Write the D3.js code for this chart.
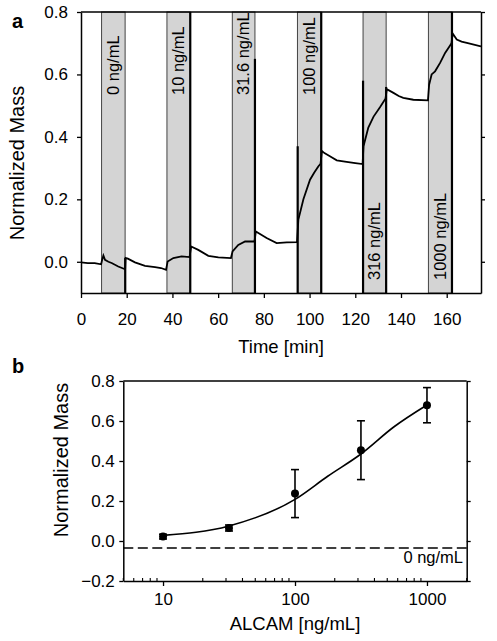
<!DOCTYPE html>
<html><head><meta charset="utf-8">
<script src="https://cdnjs.cloudflare.com/ajax/libs/d3/7.8.5/d3.min.js"></script>
<style>
body{margin:0;background:#fff;}
svg{display:block;font-family:"Liberation Sans",Arial,Helvetica,sans-serif;}
</style></head>
<body>
<svg id="chart" width="497" height="641"></svg>
<script>
// ---------- Panel a data ----------
const timeTicks = [0,20,40,60,80,100,120,140,160];
const massTicksA = [0.0,0.2,0.4,0.6,0.8];
const bandLabels = ["0 ng/mL","10 ng/mL","31.6 ng/mL","100 ng/mL","316 ng/mL","1000 ng/mL"];
const bandStart = [9.0,37.6,66.2,94.7,123.4,152.0];
const bandEnd   = [19.3,47.8,76.1,105.1,133.5,162.3];
const traceTime = [0,3,6,8.8,9.2,9.8,10.5,12,13.4,16.3,19,19.3,
  19.5,20.5,23.6,28,32.4,35,37.2,
  37.9,40.4,44,47.5,
  48.2,51.3,55.7,60.1,65.6,
  66.3,68.8,71.8,75.9,
  76.5,78.5,81.2,85.6,90,94.5,
  95.1,97.3,100.2,102,103.8,104.8,
  105.4,106.5,108.9,111.9,116.2,120,123.2,
  123.6,125.7,128,130.8,133.2,
  133.8,136.7,139,141,145.4,151.8,
  152.3,153.4,154.9,157.1,159.3,161.4,162.1,
  162.6,164.4,166.5,168.8,175];
const traceMass = [-0.002,-0.004,-0.004,-0.008,0.005,0.02,0.006,0.0,-0.004,-0.015,-0.023,-0.024,
  0.012,0.01,-0.002,-0.013,-0.017,-0.02,-0.026,
  0.001,0.012,0.017,0.015,
  0.049,0.038,0.019,0.014,0.012,
  0.033,0.054,0.065,0.065,
  0.097,0.088,0.076,0.06,0.062,0.063,
  0.135,0.2,0.263,0.285,0.305,0.314,
  0.355,0.348,0.338,0.325,0.32,0.316,0.313,
  0.37,0.43,0.465,0.495,0.522,
  0.553,0.541,0.531,0.525,0.519,0.517,
  0.567,0.6,0.61,0.637,0.669,0.692,0.70,
  0.731,0.712,0.705,0.701,0.69];
const spikeTime = [19.35,47.8,76.1,94.8,105.1,123.4,133.5,162.3];
const spikeTop  = [0.012,0.85,0.65,0.37,0.85,0.58,0.56,0.85];

// ---------- Panel b data ----------
const conc = [10,31.6,100,316,1000];
const massB = [0.022,0.065,0.237,0.454,0.679];
const errB = [0.012,0.015,0.12,0.147,0.088];
const fitConc = [10,31.6,100,178,316,560,1000];
const fitMass = [0.028,0.075,0.208,0.325,0.435,0.57,0.68];
const baselineMass = -0.035;
const concTicks = [10,100,1000];
const massTicksB = [-0.2,0.0,0.2,0.4,0.6,0.8];

const svg = d3.select("#chart");
const FONT = "Liberation Sans, Arial, Helvetica, sans-serif";

// ================= Panel a =================
const xa = d3.scaleLinear().domain([0,175]).range([81,481]);
const ya = d3.scaleLinear().domain([-0.1,0.8]).range([293,12]);
const ga = svg.append("g");

ga.append("clipPath").attr("id","clipA").append("rect")
  .attr("x",xa(0)).attr("y",ya(0.8)).attr("width",xa(175)-xa(0)).attr("height",ya(-0.1)-ya(0.8));

// bands
const bands = bandStart.map((s,i)=>({s,e:bandEnd[i],label:bandLabels[i],i}));
ga.selectAll("rect.band").data(bands).join("rect").attr("class","band")
  .attr("x",d=>xa(d.s)).attr("width",d=>xa(d.e)-xa(d.s))
  .attr("y",ya(0.8)).attr("height",ya(-0.1)-ya(0.8))
  .attr("fill","#d4d4d4").attr("stroke","#444").attr("stroke-width",1);

ga.selectAll("text.blabel").data(bands).join("text").attr("class","blabel")
  .attr("transform",d=>`translate(${(xa(d.s)+xa(d.e))/2},${d.i>=4?280:95}) rotate(-90)`)
  .attr("dy","0.35em").attr("text-anchor","start")
  .attr("font-size",16.5).attr("fill","#000").text(d=>d.label);

// trace
const trace = traceTime.map((t,i)=>[t,traceMass[i]]);
const gclip = ga.append("g").attr("clip-path","url(#clipA)");
gclip.append("path").datum(trace)
  .attr("d",d3.line().x(d=>xa(d[0])).y(d=>ya(d[1])))
  .attr("fill","none").attr("stroke","#000").attr("stroke-width",1.8);
gclip.selectAll("line.spike").data(spikeTime.map((t,i)=>({t,top:spikeTop[i]}))).join("line")
  .attr("x1",d=>xa(d.t)).attr("x2",d=>xa(d.t))
  .attr("y1",d=>ya(d.top)).attr("y2",ya(-0.15))
  .attr("stroke","#000").attr("stroke-width",2.2);

// axes a
const axL = ga.append("g").attr("transform",`translate(${xa(0)},0)`)
  .call(d3.axisLeft(ya).tickValues(massTicksA).tickFormat(d3.format(".1f")).tickSize(4).tickPadding(9).tickSizeOuter(0));
const axR = ga.append("g").attr("transform",`translate(${xa(175)},0)`)
  .call(d3.axisRight(ya).tickValues(massTicksA).tickFormat("").tickSize(4).tickSizeOuter(0));
const axB = ga.append("g").attr("transform",`translate(0,${ya(-0.1)})`)
  .call(d3.axisBottom(xa).tickValues(timeTicks).tickSize(5).tickPadding(14.5).tickSizeOuter(0));
ga.append("line").attr("x1",xa(0)).attr("x2",xa(175)).attr("y1",ya(0.8)).attr("y2",ya(0.8))
  .attr("stroke","#000").attr("stroke-width",1.5);
[axL,axR,axB].forEach(a=>{
  a.selectAll("path.domain").attr("stroke","#000").attr("stroke-width",1.5);
  a.selectAll(".tick line").attr("stroke","#000").attr("stroke-width",1.3);
  a.selectAll("text").attr("font-size",17).attr("font-family",FONT).attr("fill","#000");
});

ga.append("text").attr("x",(xa(0)+xa(175))/2).attr("y",353).attr("text-anchor","middle")
  .attr("font-size",18.5).text("Time [min]");
ga.append("text").attr("transform","translate(24,163) rotate(-90)").attr("text-anchor","middle")
  .attr("font-size",20).text("Normalized Mass");
svg.append("text").attr("x",12).attr("y",28).attr("font-size",20).attr("font-weight","bold").text("a");

// ================= Panel b =================
const xb = d3.scaleLog().domain([5,2000]).range([123.3,466.7]);
const yb = d3.scaleLinear().domain([-0.2,0.8]).range([581,381]);
const gb = svg.append("g");

// dashed baseline
gb.append("line").attr("x1",xb(5)).attr("x2",xb(2000))
  .attr("y1",yb(baselineMass)).attr("y2",yb(baselineMass))
  .attr("stroke","#000").attr("stroke-width",1.6).attr("stroke-dasharray","10,4.5");
gb.append("text").attr("x",463).attr("y",563).attr("text-anchor","end")
  .attr("font-size",16.5).text("0 ng/mL");

// fit curve
gb.append("path").datum(fitConc.map((c,i)=>[c,fitMass[i]]))
  .attr("d",d3.line().x(d=>xb(d[0])).y(d=>yb(d[1])).curve(d3.curveMonotoneX))
  .attr("fill","none").attr("stroke","#000").attr("stroke-width",1.6);

// error bars + points
const pts = conc.map((c,i)=>({c,m:massB[i],e:errB[i]}));
const eb = gb.selectAll("g.pt").data(pts).join("g").attr("class","pt");
eb.append("line").attr("x1",d=>xb(d.c)).attr("x2",d=>xb(d.c))
  .attr("y1",d=>yb(d.m-d.e)).attr("y2",d=>yb(d.m+d.e)).attr("stroke","#000").attr("stroke-width",1.6);
eb.append("line").attr("x1",d=>xb(d.c)-4).attr("x2",d=>xb(d.c)+4)
  .attr("y1",d=>yb(d.m+d.e)).attr("y2",d=>yb(d.m+d.e)).attr("stroke","#000").attr("stroke-width",1.6);
eb.append("line").attr("x1",d=>xb(d.c)-4).attr("x2",d=>xb(d.c)+4)
  .attr("y1",d=>yb(d.m-d.e)).attr("y2",d=>yb(d.m-d.e)).attr("stroke","#000").attr("stroke-width",1.6);
eb.append("circle").attr("cx",d=>xb(d.c)).attr("cy",d=>yb(d.m)).attr("r",4).attr("fill","#000");

// axes b
const bL = gb.append("g").attr("transform",`translate(${xb(5)},0)`)
  .call(d3.axisLeft(yb).tickValues(massTicksB).tickFormat(d3.format(".1f")).tickSize(4).tickPadding(4.5).tickSizeOuter(0));
const bR = gb.append("g").attr("transform",`translate(${xb(2000)},0)`)
  .call(d3.axisRight(yb).tickValues(massTicksB).tickFormat("").tickSize(4).tickSizeOuter(0));
const bB = gb.append("g").attr("transform",`translate(0,${yb(-0.2)})`)
  .call(d3.axisBottom(xb).tickValues(concTicks).tickFormat(d3.format("d")).tickSize(5).tickPadding(7).tickSizeOuter(0));
// minor ticks (inward)
const minor = xb.ticks().filter(v=>!concTicks.includes(v));
gb.selectAll("line.minor").data(minor).join("line").attr("class","minor")
  .attr("x1",d=>xb(d)).attr("x2",d=>xb(d)).attr("y1",yb(-0.2)).attr("y2",yb(-0.2)-3)
  .attr("stroke","#000").attr("stroke-width",1.1);
gb.append("line").attr("x1",xb(5)).attr("x2",xb(2000)).attr("y1",yb(0.8)).attr("y2",yb(0.8))
  .attr("stroke","#000").attr("stroke-width",1.5);
[bL,bR,bB].forEach(a=>{
  a.selectAll("path.domain").attr("stroke","#000").attr("stroke-width",1.5);
  a.selectAll(".tick line").attr("stroke","#000").attr("stroke-width",1.3);
  a.selectAll("text").attr("font-size",17).attr("font-family",FONT).attr("fill","#000");
});

gb.append("text").attr("x",(xb(5)+xb(2000))/2).attr("y",630).attr("text-anchor","middle")
  .attr("font-size",18.5).text("ALCAM [ng/mL]");
gb.append("text").attr("transform","translate(68,460) rotate(-90)").attr("text-anchor","middle")
  .attr("font-size",20).text("Normalized Mass");
svg.append("text").attr("x",12).attr("y",373).attr("font-size",20).attr("font-weight","bold").text("b");
</script>
</body></html>
